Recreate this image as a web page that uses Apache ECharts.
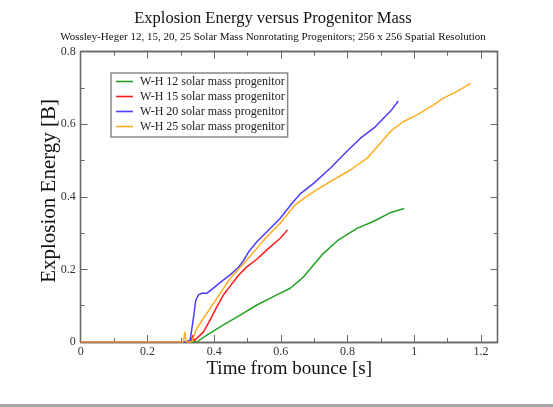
<!DOCTYPE html>
<html>
<head>
<meta charset="utf-8">
<script src="https://cdn.jsdelivr.net/npm/echarts@6/dist/echarts.min.js"></script>
<style>
  html, body { margin: 0; padding: 0; background: #fff; }
  #chart { width: 553px; height: 407px; }
</style>
</head>
<body>
<div id="chart"></div>
<script>
// time from bounce [s], explosion energy [B]
const wh12 = [[0, 0], [0.348, 0], [0.378, 0.019], [0.428, 0.047], [0.478, 0.074], [0.528, 0.102],
  [0.588, 0.13], [0.628, 0.148], [0.658, 0.171], [0.668, 0.18], [0.723, 0.24], [0.772, 0.281],
  [0.828, 0.313], [0.877, 0.332], [0.927, 0.356], [0.97, 0.368]];
const wh15 = [[0, 0], [0.33, 0], [0.336, 0.019], [0.34, 0.003], [0.348, 0.01], [0.368, 0.028],
  [0.388, 0.061], [0.408, 0.097], [0.428, 0.13], [0.448, 0.154], [0.473, 0.184], [0.498, 0.207],
  [0.528, 0.228], [0.558, 0.254], [0.598, 0.286], [0.62, 0.309]];
const wh20 = [[0, 0], [0.315, 0], [0.328, 0.005], [0.337, 0.06], [0.345, 0.115], [0.353, 0.13],
  [0.365, 0.135], [0.378, 0.134], [0.428, 0.171], [0.448, 0.185], [0.473, 0.206], [0.488, 0.224],
  [0.503, 0.248], [0.528, 0.276], [0.558, 0.304], [0.598, 0.341], [0.638, 0.387], [0.658, 0.408],
  [0.698, 0.437], [0.748, 0.479], [0.802, 0.529], [0.838, 0.561], [0.883, 0.593], [0.912, 0.621],
  [0.933, 0.641], [0.952, 0.664]];
const wh25 = [[0, 0], [0.308, 0], [0.312, 0.028], [0.316, 0], [0.333, 0], [0.348, 0.038],
  [0.378, 0.079], [0.418, 0.134], [0.448, 0.175], [0.498, 0.226], [0.528, 0.258], [0.558, 0.29],
  [0.598, 0.327], [0.643, 0.378], [0.688, 0.408], [0.748, 0.442], [0.808, 0.474], [0.858, 0.506],
  [0.898, 0.548], [0.933, 0.584], [0.967, 0.607], [1.008, 0.626], [1.057, 0.653], [1.087, 0.672],
  [1.127, 0.69], [1.169, 0.713]];

const names = ['W-H 12 solar mass progenitor', 'W-H 15 solar mass progenitor',
  'W-H 20 solar mass progenitor', 'W-H 25 solar mass progenitor'];
const colors = ['#23a023', '#ff1a1a', '#4b3cff', '#ffad1f'];
const seriesData = [wh12, wh15, wh20, wh25];

const serif = 'Liberation Serif';
const frame = '#666';
const plotBox = { left: 80.7, right: 55.3, top: 51.7, bottom: 65, containLabel: false };

function xAx(grid, pos, interval, len, labels) {
  return {
    type: 'value', gridIndex: grid, position: pos, min: 0, max: 1.25, interval: interval,
    axisLine: { show: true, onZero: false, lineStyle: { color: frame, width: 1.3 } },
    axisTick: { show: true, inside: true, length: len, lineStyle: { color: frame } },
    axisLabel: { show: labels, showMaxLabel: false, margin: 4, fontFamily: serif, fontSize: 12, color: '#333' },
    splitLine: { show: false }
  };
}
function yAx(grid, pos, interval, len, labels) {
  return {
    type: 'value', gridIndex: grid, position: pos, min: 0, max: 0.8, interval: interval,
    axisLine: { show: true, onZero: false, lineStyle: { color: frame, width: 1.3 } },
    axisTick: { show: true, inside: true, length: len, lineStyle: { color: frame } },
    axisLabel: { show: labels, margin: 5, fontFamily: serif, fontSize: 12, color: '#333' },
    splitLine: { show: false }
  };
}

// grid 0: major ticks + data, grid 1: minor ticks only
const xAxes = [xAx(0, 'bottom', 0.2, 7, true), xAx(0, 'top', 0.2, 7, false),
  xAx(1, 'bottom', 0.1, 4, false), xAx(1, 'top', 0.1, 4, false)];
xAxes[0].name = 'Time from bounce [s]';
xAxes[0].nameLocation = 'middle';
xAxes[0].nameGap = 18;
xAxes[0].nameMoveOverlap = false;
xAxes[0].nameTextStyle = { fontFamily: serif, fontSize: 19, color: '#111' };

const yAxes = [yAx(0, 'left', 0.2, 7, true), yAx(0, 'right', 0.2, 7, false),
  yAx(1, 'left', 0.1, 4, false), yAx(1, 'right', 0.1, 4, false)];
yAxes[0].name = 'Explosion Energy [B]';
yAxes[0].nameLocation = 'middle';
yAxes[0].nameGap = 21;
yAxes[0].nameMoveOverlap = false;
yAxes[0].nameTextStyle = { fontFamily: serif, fontSize: 21, color: '#111', padding: [0, 0, 0, 12] };

const chart = echarts.init(document.getElementById('chart'));
chart.setOption({
  animation: false,
  backgroundColor: '#fff',
  title: [
    { text: 'Explosion Energy versus Progenitor Mass', left: 268, top: 5, textAlign: 'center',
      textStyle: { fontFamily: serif, fontSize: 16.5, fontWeight: 'normal', color: '#111' } },
    { text: 'Wossley-Heger 12, 15, 20, 25 Solar Mass Nonrotating Progenitors; 256 x 256 Spatial Resolution',
      left: 268, top: 27, textAlign: 'center',
      textStyle: { fontFamily: serif, fontSize: 11, fontWeight: 'normal', color: '#111' } }
  ],
  legend: {
    data: names, orient: 'vertical', left: 111, top: 73,
    padding: [1, 3, 3, 5], itemGap: 0, itemWidth: 17, itemHeight: 1.6, icon: 'rect',
    borderColor: '#888', borderWidth: 1.5, borderRadius: 0,
    textStyle: { fontFamily: serif, fontSize: 12, color: '#222', lineHeight: 15, padding: [0, 0, 0, 2] }
  },
  grid: [plotBox, plotBox],
  xAxis: xAxes,
  yAxis: yAxes,
  series: seriesData.map((d, i) => ({
    name: names[i], type: 'line', data: d, xAxisIndex: 0, yAxisIndex: 0,
    showSymbol: false, symbol: 'none', color: colors[i],
    lineStyle: { width: 1.5, color: colors[i] }
  })),
  graphic: [
    { type: 'rect', shape: { x: 0, y: 404, width: 553, height: 3 }, style: { fill: '#a8a8a8' } }
  ]
});
</script>
</body>
</html>
